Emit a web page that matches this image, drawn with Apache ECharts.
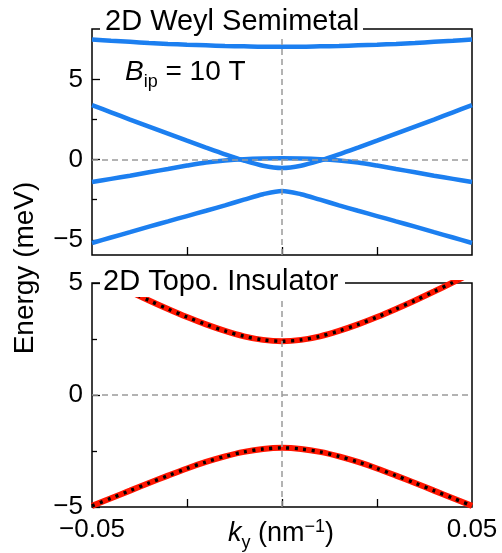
<!DOCTYPE html>
<html>
<head>
<meta charset="utf-8">
<script src="https://cdn.jsdelivr.net/npm/echarts@6/dist/echarts.min.js"></script>
<style>
html,body{margin:0;padding:0;background:#fff;}
#chart{width:502px;height:553px;}
</style>
</head>
<body>
<div id="chart"></div>
<script>
// ---- data ----
const kValues = [-0.05,-0.045,-0.04,-0.035,-0.03,-0.025,-0.02,-0.015,-0.01,-0.005,0,0.005,0.01,0.015,0.02,0.025,0.03,0.035,0.04,0.045,0.05];
const weylBand1 = [7.5,7.42,7.35,7.28,7.22,7.17,7.13,7.09,7.07,7.05,7.05,7.05,7.07,7.09,7.13,7.17,7.22,7.28,7.35,7.42,7.5];
const weylBand2 = [3.4,2.95,2.5,2.06,1.62,1.18,0.75,0.33,-0.06,-0.38,-0.52,-0.38,-0.06,0.33,0.75,1.18,1.62,2.06,2.5,2.95,3.4];
const weylBand3 = [-1.4,-1.2,-1.0,-0.79,-0.58,-0.37,-0.18,-0.05,0.03,0.07,0.08,0.07,0.03,-0.05,-0.18,-0.37,-0.58,-0.79,-1.0,-1.2,-1.4];
const weylBand4 = [-5.2,-4.86,-4.52,-4.18,-3.85,-3.52,-3.19,-2.85,-2.5,-2.16,-1.95,-2.16,-2.5,-2.85,-3.19,-3.52,-3.85,-4.18,-4.52,-4.86,-5.2];
const tiUpper = [5.45,5.03,4.62,4.22,3.84,3.48,3.15,2.86,2.62,2.46,2.4,2.46,2.62,2.86,3.15,3.48,3.84,4.22,4.62,5.03,5.45];
const tiLower = [-4.95,-4.61,-4.27,-3.93,-3.6,-3.28,-2.99,-2.74,-2.54,-2.41,-2.36,-2.41,-2.54,-2.74,-2.99,-3.28,-3.6,-3.93,-4.27,-4.61,-4.95];
const yMajorTicks = [-5, 0, 5];
const yMinorTicks = [-2.5, 2.5];
const xMajorTicks = [-0.025, 0, 0.025];
const xLabelTicks = [-0.05, 0.05];
const topTitle = '2D Weyl Semimetal';
const bottomTitle = '2D Topo. Insulator';

// ---- style ----
const FONT = "'Liberation Sans', Arial, Helvetica, sans-serif";
const BLUE = '#1c7ff0';
const RED = '#ff1500';
const GRAY = '#9a9a9a';

const cvs = document.createElement('canvas');
const ctx = cvs.getContext('2d');
function measure(t, size, italic) { ctx.font = (italic ? 'italic ' : '') + size + 'px ' + FONT; return ctx.measureText(t).width; }
function inlineText(parts, x0, baseline, align) {
  let total = 0;
  parts.forEach(p => total += measure(p.text, p.size, p.italic));
  let x = align === 'center' ? x0 - total / 2 : x0;
  const els = [];
  parts.forEach(p => {
    els.push({
      type: 'text', z: 100, x: x, y: baseline + (p.dy || 0) - 0.35 * p.size,
      style: { text: p.text, fill: '#000', fontSize: p.size, fontFamily: FONT, fontStyle: p.italic ? 'italic' : 'normal', align: 'left', verticalAlign: 'middle' }
    });
    x += measure(p.text, p.size, p.italic);
  });
  return els;
}
const zip = (a) => kValues.map((k, i) => [k, a[i]]);
const fmtY = v => (v < 0 ? '\u2212' : '') + Math.abs(Math.round(v));
const fmtX = v => (v < 0 ? '\u2212' : '') + Math.abs(v).toFixed(2);

const grids = [
  { left: 92, top: 29, width: 380, height: 226 },
  { left: 92, top: 283, width: 380, height: 224 }
];
const tickLabelStyle = { color: '#000', fontSize: 26, fontFamily: FONT };

function xAxisFor(gi, labels) {
  return {
    type: 'value', gridIndex: gi, min: -0.05, max: 0.05, interval: 0.025, position: 'bottom',
    axisLine: { show: false, onZero: false },
    axisTick: { show: true, inside: true, length: 8, customValues: xMajorTicks, lineStyle: { color: '#000', width: 1.3 } },
    axisLabel: labels ? Object.assign({ show: true, margin: 10, customValues: xLabelTicks, formatter: fmtX }, tickLabelStyle) : { show: false },
    splitLine: { show: false }
  };
}
function yAxisFor(gi, min, max, minor) {
  return {
    type: 'value', gridIndex: gi, min: min, max: max, position: 'left',
    axisLine: { show: false, onZero: false },
    axisTick: { show: true, inside: true, length: minor ? 5 : 8, customValues: minor ? yMinorTicks : yMajorTicks, lineStyle: { color: '#000', width: 1.3 } },
    axisLabel: minor ? { show: false } : Object.assign({ show: true, margin: 9, customValues: yMajorTicks, formatter: fmtY }, tickLabelStyle),
    splitLine: { show: false }
  };
}

const dashedRefs = {
  silent: true, symbol: 'none', label: { show: false },
  lineStyle: { color: GRAY, type: [6, 4], width: 1.5 },
  data: [{ yAxis: 0 }, { xAxis: 0 }]
};

function band(name, data, xi, yi, extra) {
  return Object.assign({
    type: 'line', name: name, xAxisIndex: xi, yAxisIndex: yi, data: zip(data),
    showSymbol: false, smooth: 0.3, clip: true, silent: true,
    lineStyle: { color: BLUE, width: 4.5 }
  }, extra || {});
}

const series = [
  Object.assign(band('ref1', weylBand1, 0, 0, { lineStyle: { width: 0, opacity: 0 }, z: 1 }), { markLine: dashedRefs }),
  Object.assign(band('ref2', tiUpper, 1, 2, { lineStyle: { width: 0, opacity: 0 }, z: 1 }), { markLine: dashedRefs }),
  band('w1', weylBand1, 0, 0),
  band('w2', weylBand2, 0, 0),
  band('w3', weylBand3, 0, 0),
  band('w4', weylBand4, 0, 0),
  band('t1', tiUpper, 1, 2, { lineStyle: { color: RED, width: 6 } }),
  band('t2', tiLower, 1, 2, { lineStyle: { color: RED, width: 6 } }),
  band('t1d', tiUpper, 1, 2, { lineStyle: { color: '#000', width: 3.4, type: [3, 5.5], cap: 'butt' }, z: 3 }),
  band('t2d', tiLower, 1, 2, { lineStyle: { color: '#000', width: 3.4, type: [3, 5.5], cap: 'butt' }, z: 3 })
];

const graphics = [
  { type: 'rect', z: 99, shape: { x: 100, y: 4, width: 263, height: 33 }, style: { fill: '#fff' } },
  { type: 'rect', z: 99, shape: { x: 100, y: 266, width: 245, height: 31 }, style: { fill: '#fff' } }
]
.concat(inlineText([{ text: topTitle, size: 29 }], 105, 32))
.concat(inlineText([{ text: bottomTitle, size: 29 }], 103, 292))
.concat(inlineText([
  { text: 'B', size: 28, italic: true },
  { text: 'ip', size: 18, dy: 6 },
  { text: ' = 10 T', size: 28 }
], 125, 82))
.concat(inlineText([
  { text: 'k', size: 27, italic: true },
  { text: 'y', size: 18, dy: 6 },
  { text: ' (nm', size: 27 },
  { text: '\u22121', size: 18, dy: -10 },
  { text: ')', size: 27 }
], 281, 543, 'center'))
.concat([{
  type: 'text', z: 100, x: 25, y: 268, rotation: Math.PI / 2,
  style: { text: 'Energy (meV)', fill: '#000', fontSize: 28, fontFamily: FONT, align: 'center', verticalAlign: 'middle' }
}]);

const chart = echarts.init(document.getElementById('chart'), null, { renderer: 'canvas' });
chart.setOption({
  animation: false,
  backgroundColor: '#fff',
  grid: grids.map(g => Object.assign({ show: true, borderColor: '#000', borderWidth: 1.5, backgroundColor: 'transparent', containLabel: false }, g)),
  xAxis: [xAxisFor(0, false), xAxisFor(1, true)],
  yAxis: [yAxisFor(0, -5.95, 8.15, false), yAxisFor(0, -5.95, 8.15, true), yAxisFor(1, -5, 5, false), yAxisFor(1, -5, 5, true)],
  series: series,
  graphic: graphics
});
</script>
</body>
</html>
